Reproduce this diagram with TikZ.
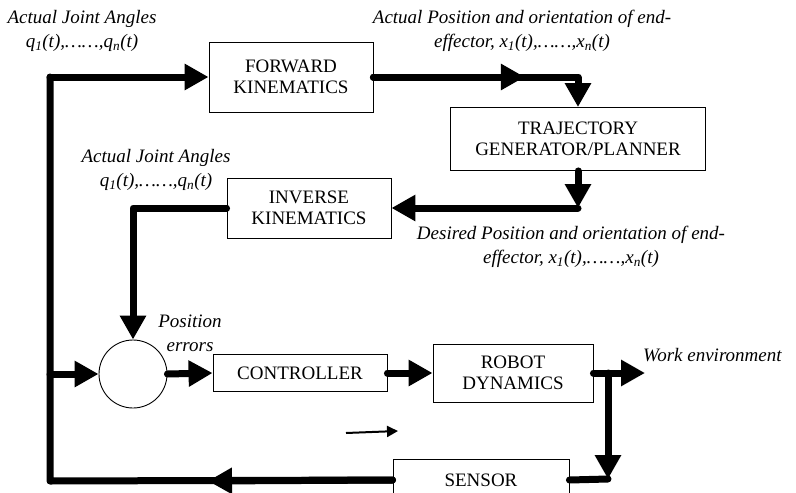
\documentclass[tikz,border=0pt]{standalone}
\usepackage{fontspec}
\setmainfont{Liberation Serif}
\usetikzlibrary{positioning,calc,arrows.meta}

\begin{document}
\begin{tikzpicture}[x=1pt, y=-1pt,
  blk/.style={draw, line width=0.9pt, align=center, inner sep=0pt, font=\fontsize{19}{21}\selectfont},
  lbl/.style={align=center, inner sep=0pt, font=\fontsize{19}{24}\selectfont\itshape},
  wire/.style={line width=7pt, line cap=round, line join=round},
  arr/.style={wire, -{Triangle[length=24pt, width=25pt]}}]
  \clip (0,0) rectangle (796,493);

  % Blocks
  \node[blk, minimum width=164, minimum height=70] (fk) at (291,77) {FORWARD\\KINEMATICS};
  \node[blk, minimum width=255, minimum height=63] (traj) at (578,139) {TRAJECTORY\\GENERATOR/PLANNER};
  \node[blk, minimum width=164, minimum height=60] (ik) at (309,208) {INVERSE\\KINEMATICS};
  \node[draw, line width=0.9pt, circle, minimum size=68, inner sep=0pt] (sum) at (133,374) {};
  \node[blk, minimum width=174, minimum height=37] (ctrl) at (300,373) {CONTROLLER};
  \node[blk, minimum width=160, minimum height=58] (rd) at (513,373) {ROBOT\\DYNAMICS};
  \node[blk, minimum width=176, minimum height=42] (sensor) at (481,480) {SENSOR};

  % Labels
  \node[lbl] (angtop) at (82,31) {Actual Joint Angles\\q\textsubscript{1}(t),……,q\textsubscript{n}(t)};
  \node[lbl] (postop) at (522,31) {Actual Position and orientation of end-\\effector, x\textsubscript{1}(t),……,x\textsubscript{n}(t)};
  \node[lbl] (angmid) at (156,170) {Actual Joint Angles\\q\textsubscript{1}(t),……,q\textsubscript{n}(t)};
  \node[lbl] (posdes) at (571,247) {Desired Position and orientation of end-\\effector, x\textsubscript{1}(t),……,x\textsubscript{n}(t)};
  \node[lbl] (poserr) at (190,333) {Position\\errors};
  \node[lbl, anchor=west] (workenv) at (643,355) {Work environment};

  % Corner points
  \coordinate (fbtop) at (50,77);
  \coordinate (fbbot) at (50,481);
  \coordinate (fbsum) at (fbtop |- sum);
  \coordinate (fbmid) at (208,481);
  \coordinate (c1) at (traj.north |- fk.east);
  \coordinate (c2) at (traj.south |- ik.east);
  \coordinate (tap) at (608,373);
  \coordinate (c3) at (608,479);
  \coordinate (env) at (645,373);
  \coordinate (s1) at (346,433);
  \coordinate (s2) at (398,431);

  % Forward path
  \draw[arr] (fbtop) -- (fk.west);
  \draw[arr] (fk.east) -- ($(fk.east)!0.74!(c1)$);
  \draw[arr] (fk.east) -- (c1) -- (traj.north);
  \draw[arr] (traj.south) -- (c2);
  \draw[arr] (c2) -- (ik.east);
  \draw[arr] (ik.west) -| (sum.north);
  \draw[arr] (sum.east) -- (ctrl.west);
  \draw[arr] (ctrl.east) -- (rd.west);
  \draw[arr] (rd.east) -- (env);

  % Feedback
  \draw[arr] (tap) -- (c3);
  \draw[wire] (c3) -- (sensor.east);
  \draw[wire] (sensor.west) -- (fbbot) -- (fbtop);
  \draw[arr] (sensor.west) -- (fbmid);
  \draw[arr] (fbsum) -- (sum.west);

  % Stray arrow
  \draw[line width=2pt, -{Triangle[length=11pt, width=11pt]}] (s1) -- (s2);
\end{tikzpicture}
\end{document}
